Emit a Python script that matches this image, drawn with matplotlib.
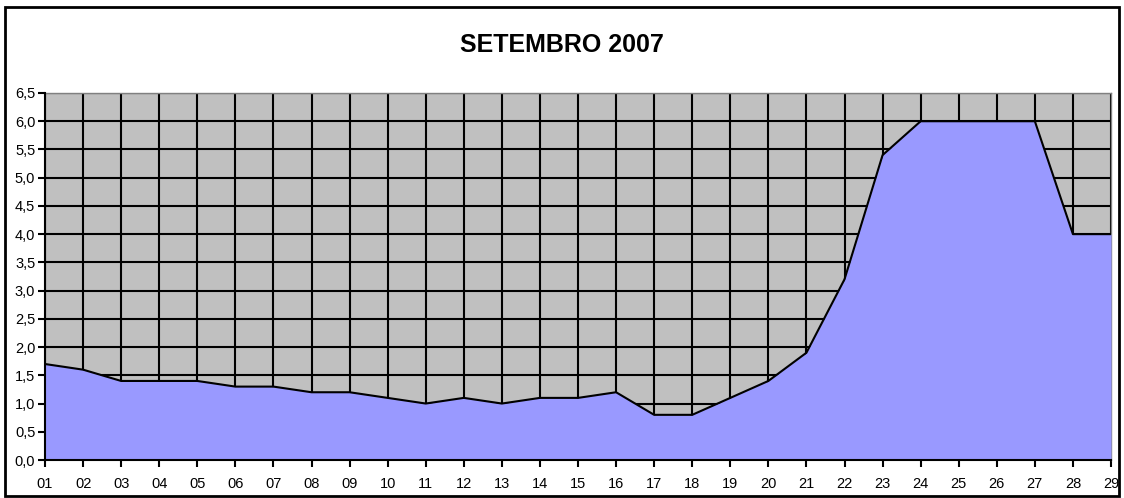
import matplotlib
matplotlib.use("Agg")
import matplotlib.pyplot as plt
from matplotlib.patches import Rectangle

days = ["01", "02", "03", "04", "05", "06", "07", "08", "09", "10",
        "11", "12", "13", "14", "15", "16", "17", "18", "19", "20",
        "21", "22", "23", "24", "25", "26", "27", "28", "29"]
values = [1.7, 1.6, 1.4, 1.4, 1.4, 1.3, 1.3, 1.2, 1.2, 1.1,
          1.0, 1.1, 1.0, 1.1, 1.1, 1.2, 0.8, 0.8, 1.1, 1.4,
          1.9, 3.2, 5.4, 6.0, 6.0, 6.0, 6.0, 4.0, 4.0]
yticks = [0.0, 0.5, 1.0, 1.5, 2.0, 2.5, 3.0, 3.5, 4.0, 4.5, 5.0, 5.5, 6.0, 6.5]

plt.rcParams["font.family"] = ["Liberation Sans", "DejaVu Sans"]

fig = plt.figure(figsize=(11.24, 4.98), dpi=100)
ax = fig.add_axes([45 / 1124, 1 - 460 / 498, (1111 - 45) / 1124, (460 - 93) / 498])
ax.set_facecolor("#C0C0C0")

x = list(range(len(days)))
ax.fill_between(x, values, 0, color="#9999FF", zorder=3, linewidth=0)
ax.plot(x, values, color="black", linewidth=1.5, zorder=4)

ax.set_xlim(0, len(days) - 1)
ax.set_ylim(0, 6.5)
ax.set_xticks(x)
ax.set_xticklabels(days)
ax.set_yticks(yticks)
ax.set_yticklabels([f"{v:.1f}".replace(".", ",") for v in yticks])
ax.grid(True, color="black", linewidth=1.5, zorder=1)
ax.set_axisbelow(True)
ax.tick_params(axis="both", direction="out", length=5, width=1.5, labelsize=10.5, color="black")
ax.tick_params(axis="x", pad=7)
ax.tick_params(axis="y", pad=2)

for side in ["left", "bottom"]:
    ax.spines[side].set_color("black")
    ax.spines[side].set_linewidth(1.5)
    ax.spines[side].set_zorder(5)
for side in ["top", "right"]:
    ax.spines[side].set_color("#808080")
    ax.spines[side].set_linewidth(1)

fig.text(0.5, 1 - 45 / 498, "SETEMBRO 2007", ha="center", va="center",
         fontsize=18, fontweight="bold")

fig.patches.append(Rectangle((5 / 1124, 2 / 498), 1114 / 1124, 489 / 498,
                             transform=fig.transFigure, fill=False,
                             edgecolor="black", linewidth=2))

fig.savefig("out.png", dpi=100)
